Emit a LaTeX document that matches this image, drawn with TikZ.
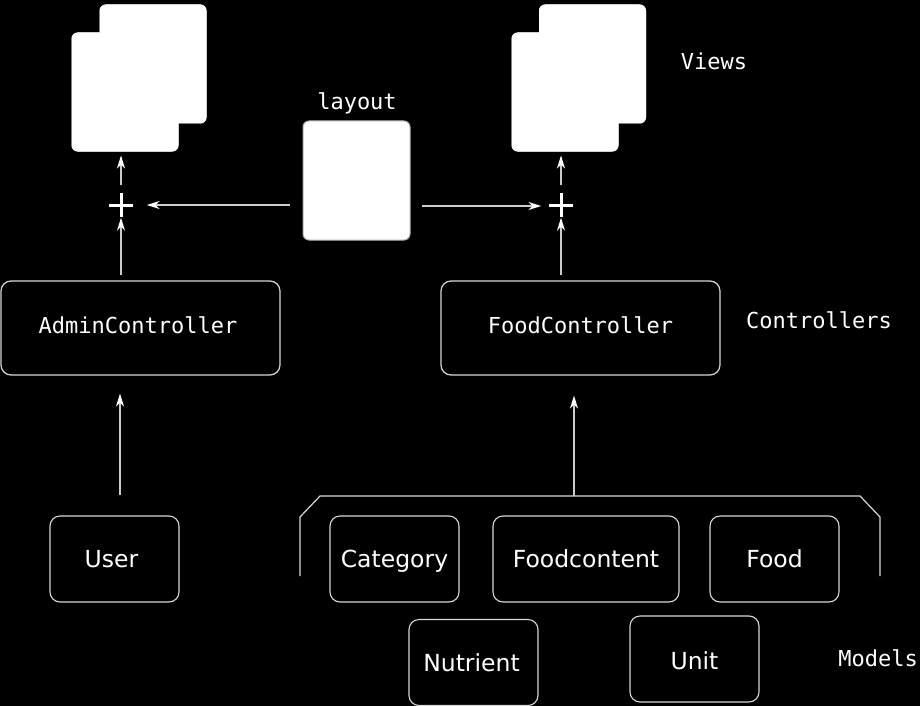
\documentclass[tikz,border=0pt]{standalone}
\usepackage{fontspec}
\setmainfont{DejaVu Sans}
\newfontfamily\monof{DejaVu Sans Mono}
\usetikzlibrary{arrows.meta}
\definecolor{edge}{HTML}{D8D8D8}
\definecolor{arrline}{HTML}{CCCCCC}
\tikzset{
  page/.style={draw=gray!60, line width=1pt, fill=white, rounded corners=6pt, minimum width=106pt, minimum height=118pt, inner sep=0pt},
  pagefill/.style={fill=white, rounded corners=6pt},
  ctrl/.style={draw=edge, line width=1.2pt, rounded corners=10pt, minimum width=279pt, minimum height=94pt, inner sep=0pt, text=white, font=\monof\fontsize{22}{24}\selectfont, text height=16pt, text depth=6pt},
  model/.style={draw=edge, line width=1.1pt, rounded corners=10pt, minimum width=129pt, minimum height=86pt, inner sep=0pt, text=white, font=\fontsize{23.5}{26}\selectfont, text height=17pt, text depth=0pt},
  lbl/.style={text=white, font=\monof\fontsize{22}{24}\selectfont, inner sep=0pt, anchor=base},
  plusn/.style={minimum size=23pt, inner sep=0pt},
  arr/.style={draw=arrline, line width=1.4pt, -{Stealth[length=13pt, width=8pt, inset=4pt, color=white, fill=white]}},
  bar/.style={draw=white, line width=3pt},
  brk/.style={draw=edge, line width=1.2pt}
}
\begin{document}
\begin{tikzpicture}[x=1pt, y=-1pt]
\fill[black] (0,0) rectangle (920,706);
\useasboundingbox (0,0) rectangle (920,706);

% view pages
\node[page] (lback) at (153,64) {};
\node[page] (lfront) at (125,92) {};
\node[page] (rback) at (592.5,64) {};
\node[page] (rfront) at (565,92) {};
\fill[pagefill] (lback.south west) rectangle (lback.north east);
\fill[pagefill] (lfront.south west) rectangle (lfront.north east);
\fill[pagefill] (rback.south west) rectangle (rback.north east);
\fill[pagefill] (rfront.south west) rectangle (rfront.north east);
\node[page, minimum width=107pt, minimum height=119pt] (layout) at (356.5,180.5) {};

% labels
\node[lbl] (llayout) at (357,110) {layout};
\node[lbl] (lviews) at (714,70) {Views};
\node[lbl] (lctrl) at (819,328) {Controllers};
\node[lbl, anchor=base east] (lmodels) at (918,666) {Models};

% plus signs
\node[plusn] (plusL) at (121,205) {};
\node[plusn] (plusR) at (561,205) {};
\draw[bar] (plusL.west) -- (plusL.east) (plusL.north) -- (plusL.south);
\draw[bar] (plusR.west) -- (plusR.east) (plusR.north) -- (plusR.south);

% controllers
\node[ctrl] (admin) at (140.5,328) {AdminController\hspace*{5pt}};
\node[ctrl] (food) at (580.5,328) {FoodController};

% models
\node[model] (user) at (114.5,559) {User\hspace*{6pt}};
\node[model] (category) at (394.5,559) {Category};
\node[model, minimum width=186pt] (foodcontent) at (586,559) {Foodcontent};
\node[model] (foodm) at (774.5,559) {Food};
\node[model] (nutrient) at (473.5,662.5) {Nutrient\hspace*{4pt}};
\node[model, text height=21pt] (unit) at (694.5,659) {Unit};

% bracket
\coordinate (btop) at (574,496);
\draw[brk] (300,576) -- (300,517) -- (320,496) -- (860,496) -- (880,517) -- (880,576);

% arrows
\draw[arr, shorten <=8pt, shorten >=4pt] (plusL.north) -- (plusL |- lfront.south);
\draw[arr, shorten <=8pt, shorten >=4pt] (plusR.north) -- (plusR |- rfront.south);
\draw[arr, shorten <=5pt, shorten >=1pt] (plusL |- admin.north) -- (plusL.south);
\draw[arr, shorten <=5pt, shorten >=1pt] (plusR |- food.north) -- (plusR.south);
\draw[arr, shorten <=13pt, shorten >=14pt] (layout.west |- plusL) -- (plusL.east);
\draw[arr, shorten <=11pt, shorten >=8pt] ([yshift=-1pt]layout.east |- plusR) -- ([yshift=-1pt]plusR.west);
\draw[arr, shorten <=20pt, shorten >=18pt] (user.north -| 120,0) -- (admin.south -| 120,0);
\draw[arr, shorten >=20pt] (btop) -- (btop |- food.south);
\end{tikzpicture}
\end{document}
